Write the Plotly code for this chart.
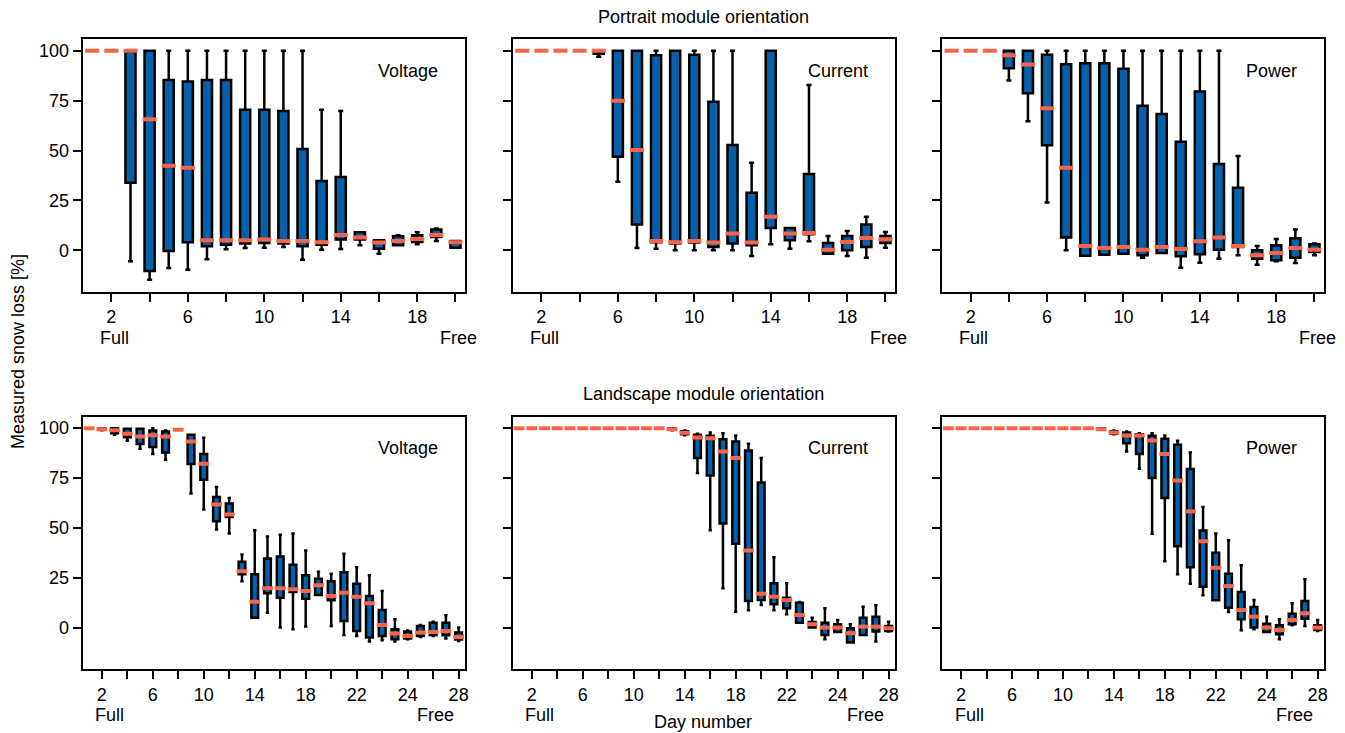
import plotly.graph_objects as go

# ---- data -------------------------------------------------------------
days_portrait = list(range(1, 21))
days_landscape = list(range(1, 31))

# Portrait, voltage
pv_low = [100, 100, -5.5, -14.7, -8.9, -9.7, -4.5, 0.5, 1.2, 1.3, 1.7, -4.7, 0.3, 0.7, 2.5, -1.7, 2.5, 3.0, 4.7, 1.3]
pv_q1 = [100, 100, 33.8, -10.4, -0.3, 4.0, 2.0, 2.8, 3.4, 3.7, 3.4, 2.0, 2.8, 5.4, 5.4, 0.8, 2.5, 4.2, 6.7, 1.3]
pv_med = [100, 100, 100, 65.7, 42.4, 41.4, 5.0, 5.0, 5.0, 5.4, 4.7, 4.7, 4.0, 7.7, 6.4, 3.9, 4.7, 5.7, 7.7, 4.0]
pv_q3 = [100, 100, 100, 100, 85.4, 84.6, 85.4, 85.4, 70.4, 70.4, 69.8, 50.8, 34.7, 36.7, 9.0, 5.0, 7.0, 7.5, 10.4, 4.7]
pv_high = [100, 100, 100, 100, 100, 100, 100, 100, 100, 100, 100, 100, 70.4, 69.8, 9.0, 5.0, 7.5, 9.0, 10.9, 4.7]

# Portrait, current
pc_low = [100, 100, 100, 100, 97.0, 34.3, 1.2, 0.8, 0.0, 0.0, 0.0, 0.0, -2.8, 3.0, 0.8, 4.5, -1.7, -2.8, -3.7, 1.3]
pc_q1 = [100, 100, 100, 100, 98.5, 46.9, 12.9, 4.0, 3.4, 3.9, 1.7, 3.4, 2.5, 11.2, 5.0, 8.0, -1.7, 0.0, 1.7, 3.7]
pc_med = [100, 100, 100, 100, 100, 75.0, 50.3, 4.7, 4.0, 4.7, 3.9, 8.4, 3.9, 16.8, 8.4, 8.7, 0.3, 4.2, 6.2, 5.5]
pc_q3 = [100, 100, 100, 100, 100, 100, 100, 97.7, 100, 98.0, 74.5, 52.8, 28.8, 100, 11.2, 38.2, 3.7, 7.2, 12.9, 7.2]
pc_high = [100, 100, 100, 100, 100, 100, 100, 100, 100, 100, 100, 100, 43.9, 100, 11.2, 82.9, 7.2, 9.7, 16.8, 9.2]

# Portrait, power
pp_low = [100, 100, 100, 85.1, 64.7, 24.0, 0.0, -2.7, -2.2, -1.7, -3.7, -1.3, -8.7, -6.2, -4.2, -2.5, -7.2, -5.5, -6.4, -2.5]
pp_q1 = [100, 100, 100, 91.3, 78.7, 52.6, 6.4, -2.7, -2.2, -1.7, -2.5, -1.3, -3.0, -2.0, 0.3, 1.7, -4.2, -5.0, -3.7, -0.8]
pp_med = [100, 100, 100, 97.7, 93.1, 71.2, 41.4, 2.2, 1.2, 1.7, 0.3, 1.7, 0.7, 4.5, 6.4, 2.2, -2.5, -1.3, 1.2, 0.3]
pp_q3 = [100, 100, 100, 100, 100, 98.0, 93.3, 93.8, 93.8, 91.0, 72.5, 68.3, 54.4, 79.6, 43.2, 31.3, 0.0, 2.5, 6.0, 3.0]
pp_high = [100, 100, 100, 100, 100, 100, 100, 100, 100, 100, 100, 100, 100, 100, 100, 47.2, 2.2, 5.7, 10.4, 3.4]

# Landscape, voltage
lv_low = [100, 99.0, 96.7, 93.7, 89.7, 87.0, 84.2, 99.2, 67.2, 59.2, 49.2, 47.2, 23.3, 5.0, 7.5,
          0.0, -0.8, 0.5, 16.3, 0.8, -3.7, -4.2, -7.0, -6.3, -7.0, -5.8, -4.7, -4.2, -5.5, -6.7]
lv_q1 = [100, 99.2, 97.5, 95.5, 92.0, 90.5, 87.8, 99.2, 82.0, 74.2, 53.3, 55.5, 26.7, 5.0, 17.2,
         15.0, 17.8, 14.5, 16.3, 13.7, 3.3, -1.7, -5.0, -4.2, -5.8, -5.5, -4.2, -3.7, -3.8, -6.0]
lv_med = [100, 99.5, 99.0, 97.2, 95.8, 96.5, 95.8, 99.2, 93.3, 82.2, 61.7, 56.7, 28.3, 13.0, 19.7,
          19.7, 19.2, 18.3, 21.3, 15.8, 17.5, 15.5, 12.2, 1.3, -3.0, -4.2, -2.5, -2.2, -1.7, -4.7]
lv_q3 = [100, 99.8, 100, 99.7, 99.7, 98.8, 98.3, 99.2, 96.7, 87.0, 65.5, 62.2, 33.0, 26.7, 34.7,
         35.7, 31.5, 26.2, 24.5, 23.3, 27.8, 22.0, 15.8, 8.8, -0.8, -2.0, 0.8, 2.5, 2.5, -2.5]
lv_high = [100, 100, 100, 99.7, 99.7, 100, 98.8, 99.5, 96.7, 95.2, 70.5, 65.0, 36.7, 48.8, 45.7,
           46.5, 47.2, 38.7, 28.0, 27.0, 37.0, 30.3, 26.2, 18.3, 4.2, -1.5, 1.3, 3.0, 6.2, 0.0]

# Landscape, current
lc_low = [100] * 12 + [99.0, 96.5, 77.5, 48.8, 19.7, 8.0, 8.7, 11.3, 8.7, 6.7, 2.5, 0.0, -5.8, -2.2, -7.5, -3.7, -7.0, -2.0]
lc_q1 = [100] * 12 + [99.2, 97.0, 85.0, 76.3, 52.2, 42.0, 13.3, 13.8, 11.7, 9.7, 2.5, 0.0, -3.7, -2.2, -7.5, -3.7, -2.0, -1.7]
lc_med = [100] * 12 + [99.5, 97.7, 95.3, 95.0, 88.3, 85.0, 38.7, 17.0, 15.5, 13.8, 6.3, 1.7, 0.0, 0.0, -2.8, 0.5, 0.5, -0.3]
lc_q3 = [100] * 12 + [100, 98.5, 96.7, 96.2, 94.5, 93.3, 88.8, 72.8, 22.2, 15.0, 12.5, 2.8, 2.5, 1.7, -0.3, 5.0, 5.5, 0.8]
lc_high = [100] * 12 + [100, 98.8, 97.2, 97.8, 97.5, 96.3, 92.2, 85.0, 35.3, 22.2, 12.8, 5.0, 9.7, 3.8, 1.7, 10.5, 11.2, 3.0]

# Landscape, power
lp_low = [100] * 12 + [99.2, 97.0, 88.3, 79.7, 47.0, 33.3, 26.7, 22.0, 16.2, 13.7, 7.8, -1.3, -0.8, -2.2, -5.8, 1.2, 0.8, -1.7]
lp_q1 = [100] * 12 + [99.3, 97.3, 92.5, 87.0, 75.0, 65.0, 40.8, 30.3, 20.5, 13.7, 10.0, 4.2, 0.0, -2.2, -3.3, 1.7, 4.5, -1.2]
lp_med = [100] * 12 + [99.5, 97.8, 96.3, 96.3, 93.8, 87.0, 73.8, 58.3, 43.3, 30.0, 20.8, 8.8, 5.5, 0.0, -1.2, 3.8, 7.2, 0.0]
lp_q3 = [100] * 12 + [100, 98.5, 97.8, 97.0, 96.2, 94.7, 91.7, 79.5, 48.7, 37.5, 27.0, 17.8, 10.3, 2.0, 1.2, 7.0, 13.3, 1.2]
lp_high = [100] * 12 + [100, 98.8, 98.3, 97.5, 97.5, 96.3, 93.7, 87.8, 60.5, 47.2, 43.8, 31.3, 13.8, 5.5, 4.2, 12.2, 24.2, 3.8]

panel_names = ["Voltage", "Current", "Power", "Voltage", "Current", "Power"]
row_titles = ["Portrait module orientation", "Landscape module orientation"]

# tick labels
portrait_tickvals = list(range(2, 21, 2))
portrait_ticktext = ["2", "", "6", "", "10", "", "14", "", "18", ""]
landscape_tickvals = list(range(2, 31, 2))
landscape_ticktext = ["2", "", "6", "", "10", "", "14", "", "18", "", "22", "", "24", "", "28"]

panels = [
    (days_portrait, pv_low, pv_q1, pv_med, pv_q3, pv_high),
    (days_portrait, pc_low, pc_q1, pc_med, pc_q3, pc_high),
    (days_portrait, pp_low, pp_q1, pp_med, pp_q3, pp_high),
    (days_landscape, lv_low, lv_q1, lv_med, lv_q3, lv_high),
    (days_landscape, lc_low, lc_q1, lc_med, lc_q3, lc_high),
    (days_landscape, lp_low, lp_q1, lp_med, lp_q3, lp_high),
]

# ---- styling ----------------------------------------------------------
W, H = 1345, 733
FONT = "Liberation Sans, Arial, sans-serif"
BOX_FILL = "#0560ab"
MEDIAN = "#ff6347"
BOX_WIDTH = 0.53

col_px = [(82.7, 465.0), (512.7, 895.0), (942.0, 1324.0)]
row_px = [(39.3, 291.7), (416.7, 669.0)]

fig = go.Figure()

for k, (days, lo, q1, med, q3, hi) in enumerate(panels):
    idx = k + 1
    xa = "x" if idx == 1 else f"x{idx}"
    ya = "y" if idx == 1 else f"y{idx}"
    fig.add_trace(go.Box(
        x=days, q1=q1, median=med, q3=q3, lowerfence=lo, upperfence=hi,
        width=BOX_WIDTH, whiskerwidth=0.5, boxpoints=False,
        fillcolor=BOX_FILL, line=dict(color="black", width=2.5),
        xaxis=xa, yaxis=ya, hoverinfo="skip", showlegend=False,
    ))
    # median bars, slightly wider than the box outline
    px_per_day = (col_px[0][1] - col_px[0][0]) / (len(days))
    hw = BOX_WIDTH / 2 + 2.0 / px_per_day
    mx, my = [], []
    for d, m in zip(days, med):
        mx += [d - hw, d + hw, None]
        my += [m, m, None]
    fig.add_trace(go.Scatter(
        x=mx, y=my, mode="lines", line=dict(color=MEDIAN, width=4),
        xaxis=xa, yaxis=ya, hoverinfo="skip", showlegend=False,
    ))

axis_common = dict(
    showline=True, mirror=True, linecolor="black", linewidth=2,
    ticks="outside", ticklen=8, tickwidth=2, tickcolor="black",
    showgrid=False, zeroline=False,
    tickfont=dict(family=FONT, size=18, color="black"),
    automargin=False,
)

layout = dict(
    width=W, height=H, margin=dict(l=0, r=0, t=0, b=0),
    paper_bgcolor="white", plot_bgcolor="white", showlegend=False,
    font=dict(family=FONT, size=18, color="black"),
)

annotations = []
for k in range(6):
    idx = k + 1
    row = 0 if k < 3 else 1
    col = k % 3
    x0, x1 = col_px[col]
    y0, y1 = row_px[row]
    xname = "xaxis" if idx == 1 else f"xaxis{idx}"
    yname = "yaxis" if idx == 1 else f"yaxis{idx}"
    ndays = 20 if row == 0 else 30
    layout[xname] = dict(
        axis_common,
        domain=[x0 / W, x1 / W],
        anchor="y" if idx == 1 else f"y{idx}",
        range=[0.5, ndays + 0.5],
        tickmode="array",
        tickvals=portrait_tickvals if row == 0 else landscape_tickvals,
        ticktext=portrait_ticktext if row == 0 else landscape_ticktext,
        ticklabelstandoff=0,
    )
    layout[yname] = dict(
        axis_common,
        domain=[1 - y1 / H, 1 - y0 / H],
        anchor="x" if idx == 1 else f"x{idx}",
        range=[-20.75, 105.75],
        tickmode="array", tickvals=[0, 25, 50, 75, 100],
        showticklabels=(col == 0),
    )
    xdom = "x domain" if idx == 1 else f"x{idx} domain"
    ydom = "y domain" if idx == 1 else f"y{idx} domain"
    annotations.append(dict(
        text=panel_names[k], xref=xdom, yref=ydom, x=0.935, y=0.874,
        xanchor="right", yanchor="middle", showarrow=False,
        font=dict(family=FONT, size=18, color="black"),
    ))
    full_off = 31.3 if row == 0 else 27.0
    free_off = 375.6 if row == 0 else 352.8
    below = 46.0
    for txt, off in (("Full", full_off), ("Free", free_off)):
        annotations.append(dict(
            text=txt, xref="paper", yref="paper",
            x=(x0 + off) / W, y=1 - (y1 + below) / H,
            xanchor="center", yanchor="middle", showarrow=False,
            font=dict(family=FONT, size=18, color="black"),
        ))

annotations.append(dict(
    text=row_titles[0], xref="paper", yref="paper", x=703 / W, y=1 - 17 / H,
    xanchor="center", yanchor="middle", showarrow=False,
    font=dict(family=FONT, size=18, color="black")))
annotations.append(dict(
    text=row_titles[1], xref="paper", yref="paper", x=703 / W, y=1 - 394 / H,
    xanchor="center", yanchor="middle", showarrow=False,
    font=dict(family=FONT, size=18, color="black")))
annotations.append(dict(
    text="Day number", xref="paper", yref="paper", x=703 / W, y=1 - 722 / H,
    xanchor="center", yanchor="middle", showarrow=False,
    font=dict(family=FONT, size=18, color="black")))
annotations.append(dict(
    text="Measured snow loss [%]", xref="paper", yref="paper", x=18 / W, y=1 - 352 / H,
    xanchor="center", yanchor="middle", showarrow=False, textangle=-90,
    font=dict(family=FONT, size=18, color="black")))

layout["annotations"] = annotations
fig.update_layout(**layout)

fig.write_html("out.html")
